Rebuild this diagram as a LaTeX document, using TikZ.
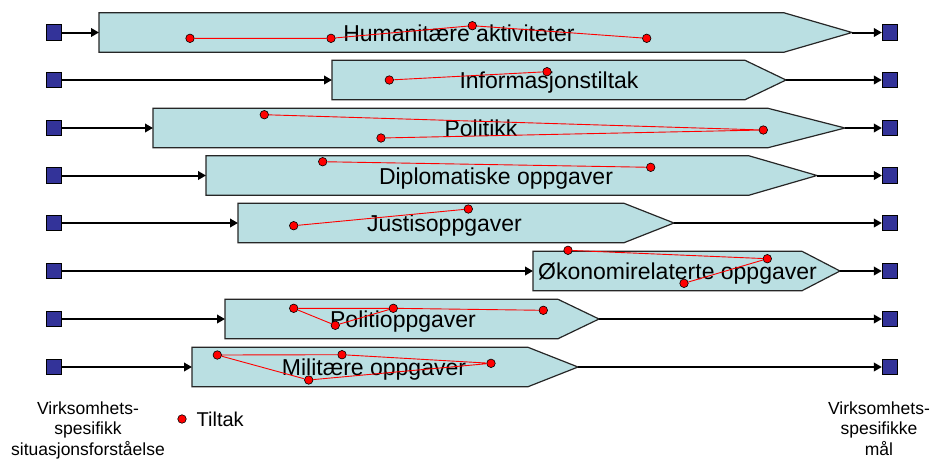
\documentclass[tikz,border=0pt]{standalone}
\usepackage{fontspec}
\setmainfont{Liberation Sans}
\usetikzlibrary{arrows.meta}
\definecolor{boxfill}{RGB}{186,223,226}
\definecolor{sqfill}{RGB}{51,51,153}
\definecolor{dotred}{RGB}{255,0,0}
\tikzset{
  taskbox/.style={fill=boxfill, draw=black!85, line width=1.2pt, line join=miter},
  endsq/.style={rectangle, fill=sqfill, draw=black, line width=0.8pt, minimum size=15.5pt, inner sep=0pt},
  flow/.style={draw=black, line width=2pt, -{Triangle[length=8pt,width=8.5pt]}},
  tasklbl/.style={font=\fontsize{23}{27}\selectfont, inner sep=0pt, anchor=base},
  measure/.style={circle, fill=dotred, draw=black, line width=0.6pt, minimum size=8.5pt, inner sep=0pt},
  link/.style={draw=dotred, line width=0.9pt},
  caption/.style={font=\fontsize{17.5}{20.5}\selectfont, align=center, inner sep=0pt, anchor=north}
}
\begin{document}
\begin{tikzpicture}[x=1pt,y=-1pt]
\useasboundingbox (0,0) rectangle (933,459);

% Task arrows (pentagons), end squares and flow arrows
\foreach \r/\y/\xl/\xn/\xt in {1/32.5/99/784/852, 2/80/332/745/786, 3/128/153/768/845,
    4/175.5/206/749/817, 5/223/238/624/674, 6/271/533/802/840, 7/319/225/558/599,
    8/367/192/528/578}{
  \draw[taskbox] (\xl,\y-19.7) -- (\xn,\y-19.7) -- (\xt,\y) -- (\xn,\y+19.7)
      -- (\xl,\y+19.7) -- cycle;
  \coordinate (bw\r) at (\xl,\y);
  \coordinate (bt\r) at (\xt,\y);
  \node[endsq] (lsq\r) at (53.7,\y) {};
  \node[endsq] (rsq\r) at (890,\y) {};
  \draw[flow] (lsq\r) -- (bw\r);
  \draw[flow] (bt\r) -- (rsq\r);
}

% Task names
\node[tasklbl] (t1) at (459,41.4) {Humanitære aktiviteter};
\node[tasklbl] (t2) at (549,88.5) {Informasjonstiltak};
\node[tasklbl] (t3) at (481,136.6) {Politikk};
\node[tasklbl] (t4) at (496,184.2) {Diplomatiske oppgaver};
\node[tasklbl] (t5) at (444.5,231.6) {Justisoppgaver};
\node[tasklbl] (t6) at (677.5,279.6) {Økonomirelaterte oppgaver};
\node[tasklbl] (t7) at (403,327.6) {Politioppgaver};
\node[tasklbl] (t8) at (374,375.6) {Militære oppgaver};

% Measures (Tiltak)
\node[measure] (d11) at (190,38.3) {};
\node[measure] (d12) at (331,38.3) {};
\node[measure] (d13) at (472.3,25.7) {};
\node[measure] (d14) at (646.7,38.3) {};
\node[measure] (d21) at (389.3,80) {};
\node[measure] (d22) at (547,71.7) {};
\node[measure] (d31) at (264.3,114.7) {};
\node[measure] (d32) at (763.3,130) {};
\node[measure] (d33) at (381,138) {};
\node[measure] (d41) at (322.7,161.7) {};
\node[measure] (d42) at (650.7,167.3) {};
\node[measure] (d51) at (293.7,225.7) {};
\node[measure] (d52) at (468.3,209) {};
\node[measure] (d61) at (568,250.3) {};
\node[measure] (d62) at (767.3,258.7) {};
\node[measure] (d63) at (684,283.3) {};
\node[measure] (d71) at (293.7,308.3) {};
\node[measure] (d72) at (393.3,308.3) {};
\node[measure] (d73) at (543.3,310.3) {};
\node[measure] (d74) at (335.3,325.3) {};
\node[measure] (d81) at (217.3,355) {};
\node[measure] (d82) at (342,354.7) {};
\node[measure] (d83) at (491,363.3) {};
\node[measure] (d84) at (308.7,380) {};

% Links between measures
\draw[link] (d11) -- (d12) -- (d13) -- (d14);
\draw[link] (d21) -- (d22);
\draw[link] (d31) -- (d32) -- (d33);
\draw[link] (d41) -- (d42);
\draw[link] (d51) -- (d52);
\draw[link] (d61) -- (d62) -- (d63);
\draw[link] (d73) -- (d72) -- (d71) -- (d74) -- (d72);
\draw[link] (d81) -- (d82) -- (d83) -- (d84) -- (d81);

% Legend and captions
\node[measure] (key) at (182,419) {};
\node[font=\fontsize{20}{24}\selectfont, inner sep=0pt, anchor=base west] (keytxt) at (196.5,426) {Tiltak};
\node[caption] (capL) at (88,401.5) {Virksomhets-\\spesifikk\\situasjonsforståelse};
\node[caption] (capR) at (879,401.5) {Virksomhets-\\spesifikke\\mål};
\end{tikzpicture}
\end{document}
